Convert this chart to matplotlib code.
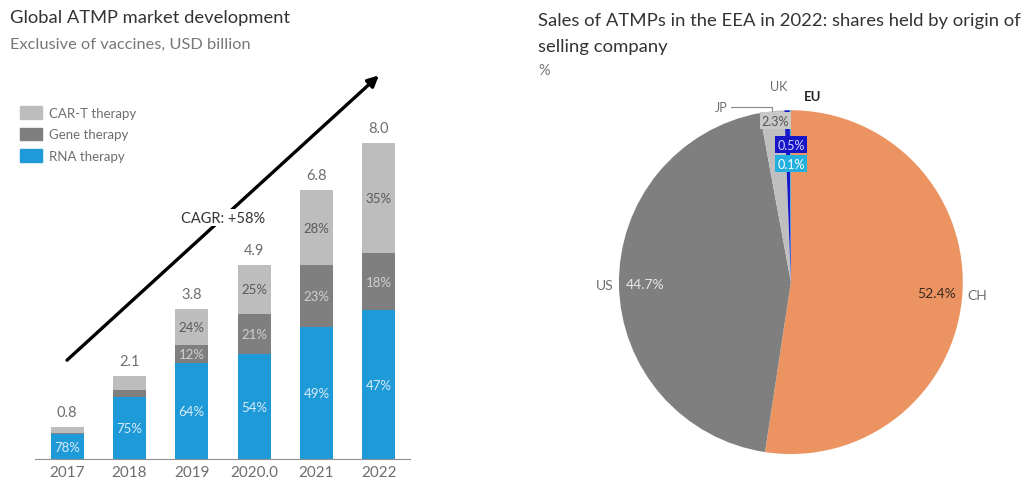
import matplotlib
matplotlib.use("Agg")
import matplotlib.pyplot as plt
import matplotlib.patches as mpatches
import numpy as np

plt.rcParams['font.family'] = ['Lato', 'DejaVu Sans']

# Left chart data: global ATMP market, USD billion
years = ['2017', '2018', '2019', '2020.0', '2021', '2022']
totals = [0.8, 2.1, 3.8, 4.9, 6.8, 8.0]
rna_share = [78, 75, 64, 54, 49, 47]
gene_share = [5, 8, 12, 21, 23, 18]
cart_share = [17, 17, 24, 25, 28, 35]
show_gene = [False, False, True, True, True, True]
show_cart = [False, False, True, True, True, True]
cagr_label = 'CAGR: +58%'

# Right chart data: EEA sales shares 2022 by origin
origins = ['CH', 'US', 'JP', 'UK', 'EU']
origin_share = [52.4, 44.7, 2.3, 0.5, 0.1]

c_rna = '#1f9ad8'
c_gene = '#7f7f7f'
c_cart = '#bdbdbd'
txt_gray = '#6e6e6e'

fig = plt.figure(figsize=(10.21, 4.89), dpi=100)

# ---- bar chart ----
ax = fig.add_axes([0.0339, 0.0593, 0.3677, 0.849])
x = np.arange(len(years))
tot = np.array(totals)
rna = tot * np.array(rna_share) / 100
gene = tot * np.array(gene_share) / 100
cart = tot * np.array(cart_share) / 100
w = 0.53
ax.bar(x, rna, w, color=c_rna, label='RNA therapy')
ax.bar(x, gene, w, bottom=rna, color=c_gene, label='Gene therapy')
ax.bar(x, cart, w, bottom=rna + gene, color=c_cart, label='CAR-T therapy')

for i in range(len(years)):
    ax.text(x[i], rna[i] / 2, f'{rna_share[i]}%', ha='center', va='center',
            color='#d8ecf8', fontsize=9.5)
    if show_gene[i]:
        ax.text(x[i], rna[i] + gene[i] / 2, f'{gene_share[i]}%', ha='center',
                va='center', color='#d0d0d0', fontsize=9.5)
    if show_cart[i]:
        ax.text(x[i], rna[i] + gene[i] + cart[i] / 2, f'{cart_share[i]}%',
                ha='center', va='center', color='#5a5a5a', fontsize=9.5)
    ax.text(x[i], tot[i] + 0.2, f'{totals[i]:.1f}', ha='center', va='bottom',
            color=txt_gray, fontsize=10.5)

# growth arrow with CAGR label sitting on it
off = 1.7
ax.annotate('', xy=(x[-1], tot[-1] + off), xytext=(x[0], tot[0] + off),
            arrowprops=dict(arrowstyle='-|>', color='black', lw=2.4,
                            mutation_scale=16, shrinkA=0, shrinkB=0))
mx = (x[0] + x[-1]) / 2
my = (tot[0] + tot[-1]) / 2 + off
ax.text(mx, my, cagr_label, ha='center', va='center', fontsize=10.5,
        color='#333333', bbox=dict(facecolor='white', edgecolor='none', pad=1))

ax.set_xlim(-0.52, 5.5)
ax.set_ylim(0, 10.5)
ax.set_xticks(x)
ax.set_xticklabels(years, color=txt_gray, fontsize=11)
ax.tick_params(axis='x', length=0, pad=4)
ax.set_yticks([])
for s in ['top', 'right', 'left']:
    ax.spines[s].set_visible(False)
ax.spines['bottom'].set_color('#909090')

handles = [mpatches.Patch(color=c_cart, label='CAR-T therapy'),
           mpatches.Patch(color=c_gene, label='Gene therapy'),
           mpatches.Patch(color=c_rna, label='RNA therapy')]
leg = fig.legend(handles=handles, loc='upper left', bbox_to_anchor=(0.008, 0.805),
                 frameon=False, fontsize=9.5, handlelength=1.7, handleheight=1.1,
                 labelspacing=0.65, handletextpad=0.5)
for t in leg.get_texts():
    t.set_color(txt_gray)

fig.text(0.010, 0.963, 'Global ATMP market development', fontsize=13.2,
         color='#333333', va='center')
fig.text(0.010, 0.908, 'Exclusive of vaccines, USD billion', fontsize=11.8,
         color='#777777', va='center')

# ---- pie chart ----
fig.text(0.527, 0.958, 'Sales of ATMPs in the EEA in 2022: shares held by origin of',
         fontsize=13.3, color='#333333', va='center')
fig.text(0.527, 0.903, 'selling company', fontsize=13.3, color='#333333', va='center')
fig.text(0.527, 0.855, '%', fontsize=10.5, color='#777777', va='center')

pax = fig.add_axes([0.5557, -0.036, 0.4378, 0.914])
pie_colors = ['#ec9461', '#7f7f7f', '#bfbfbf', '#1616c8', '#23b0e0']
wedges, _ = pax.pie(origin_share, colors=pie_colors, startangle=90,
                    counterclock=False, radius=1.0)
pax.set_xlim(-1.3, 1.3)
pax.set_ylim(-1.3, 1.3)
pax.set_aspect('equal')
pax.axis('off')

def mid_angle(wd):
    return np.deg2rad((wd.theta1 + wd.theta2) / 2)

# big slices: name outside, value inside
pct_colors = {'CH': '#3a2a20', 'US': '#e6e6e6'}
for i in range(2):
    a = mid_angle(wedges[i])
    ca, sa = np.cos(a), np.sin(a)
    ha = 'left' if ca > 0 else 'right'
    pax.text(1.03 * ca, 1.03 * sa, origins[i], ha=ha, va='center',
             fontsize=10, color=txt_gray)
    pax.text(0.85 * ca, 0.85 * sa, f'{origin_share[i]}%', ha='center',
             va='center', fontsize=10, color=pct_colors[origins[i]])

# small slices near the top
a_jp = mid_angle(wedges[2])
pax.annotate(origins[2], xy=(np.cos(a_jp), np.sin(a_jp)), xytext=(-0.37, 1.02),
             ha='right', va='center', fontsize=9, color=txt_gray,
             arrowprops=dict(arrowstyle='-', color='#888888', lw=0.8,
                             connectionstyle='angle,angleA=0,angleB=90,rad=0',
                             shrinkA=1, shrinkB=0))
pax.text(-0.07, 1.14, origins[3], ha='center', va='center', fontsize=9,
         color=txt_gray)
pax.text(0.125, 1.08, origins[4], ha='center', va='center', fontsize=9.5,
         color='#222222', fontweight='bold')
pax.text(-0.09, 0.94, f'{origin_share[2]}%', ha='center', va='center',
         fontsize=9, color='#555555',
         bbox=dict(facecolor='#c8c8c8', edgecolor='none', pad=1.5))
pax.text(0.0, 0.80, f'{origin_share[3]}%', ha='center', va='center',
         fontsize=9, color='#d8d8ff',
         bbox=dict(facecolor='#1616c8', edgecolor='none', pad=1.5))
pax.text(0.0, 0.69, f'{origin_share[4]}%', ha='center', va='center',
         fontsize=9, color='white',
         bbox=dict(facecolor='#23b0e0', edgecolor='none', pad=1.5))

fig.savefig('out.png', dpi=100)
